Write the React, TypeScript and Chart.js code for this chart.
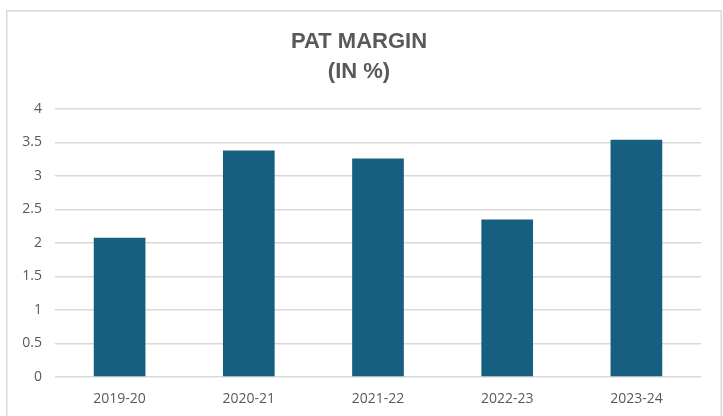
import React, { useEffect, useRef } from "react";
import { Chart, registerables } from "chart.js";

Chart.register(...registerables);

const categories = ["2019-20", "2020-21", "2021-22", "2022-23", "2023-24"];
const patMargin = [2.08, 3.38, 3.26, 2.35, 3.54];
const titleLines = ["PAT MARGIN", "(IN %)"];
const yMin = 0;
const yMax = 4;
const yStep = 0.5;

const framePlugin = {
  id: "frame",
  beforeDraw(chart: any) {
    const ctx = chart.ctx;
    ctx.save();
    ctx.fillStyle = "#ffffff";
    ctx.fillRect(0, 0, chart.width, chart.height);
    ctx.strokeStyle = "#d9d9d9";
    ctx.lineWidth = 1.5;
    ctx.strokeRect(6.75, 10.75, 714.5, 500);
    ctx.restore();
  },
  afterDraw(chart: any) {
    const ctx = chart.ctx;
    ctx.save();
    ctx.fillStyle = "#595959";
    ctx.font = "bold 22px 'Liberation Sans', Arial, sans-serif";
    ctx.textAlign = "center";
    ctx.textBaseline = "alphabetic";
    ctx.fillText(titleLines[0], 359, 48);
    ctx.fillText(titleLines[1], 359, 78);
    ctx.restore();
  },
};

export default function App() {
  const ref = useRef<HTMLCanvasElement | null>(null);
  useEffect(() => {
    document.body.style.margin = "0";
    const chart = new Chart(ref.current as HTMLCanvasElement, {
      type: "bar",
      data: {
        labels: categories,
        datasets: [
          {
            data: patMargin,
            backgroundColor: "#175f80",
            categoryPercentage: 1,
            barPercentage: 0.4,
          },
        ],
      },
      options: {
        animation: false,
        responsive: false,
        maintainAspectRatio: false,
        layout: { padding: { left: 0, right: 22, top: 109, bottom: 0 } },
        plugins: {
          legend: { display: false },
          tooltip: { enabled: false },
          title: { display: false },
        },
        scales: {
          x: {
            grid: { display: false, drawTicks: false },
            border: { display: false },
            ticks: {
              color: "#595959",
              padding: 14,
              font: { family: "'Open Sans', sans-serif", size: 14 },
            },
            afterFit(scale: any) {
              scale.height = 39;
            },
          },
          y: {
            min: yMin,
            max: yMax,
            grid: { color: "#d9d9d9", lineWidth: 1.5, drawTicks: false },
            border: { display: false },
            ticks: {
              stepSize: yStep,
              color: "#595959",
              padding: 13,
              font: { family: "'Open Sans', sans-serif", size: 14 },
              callback: (v: any) => String(Number(v)),
            },
            afterFit(scale: any) {
              scale.width = 55;
            },
          },
        },
      },
      plugins: [framePlugin],
    });
    return () => chart.destroy();
  }, []);
  return (
    <div style={{ position: "absolute", left: 0, top: 0, width: 723, height: 416 }}>
      <canvas ref={ref} width={723} height={416} style={{ display: "block" }} />
    </div>
  );
}
